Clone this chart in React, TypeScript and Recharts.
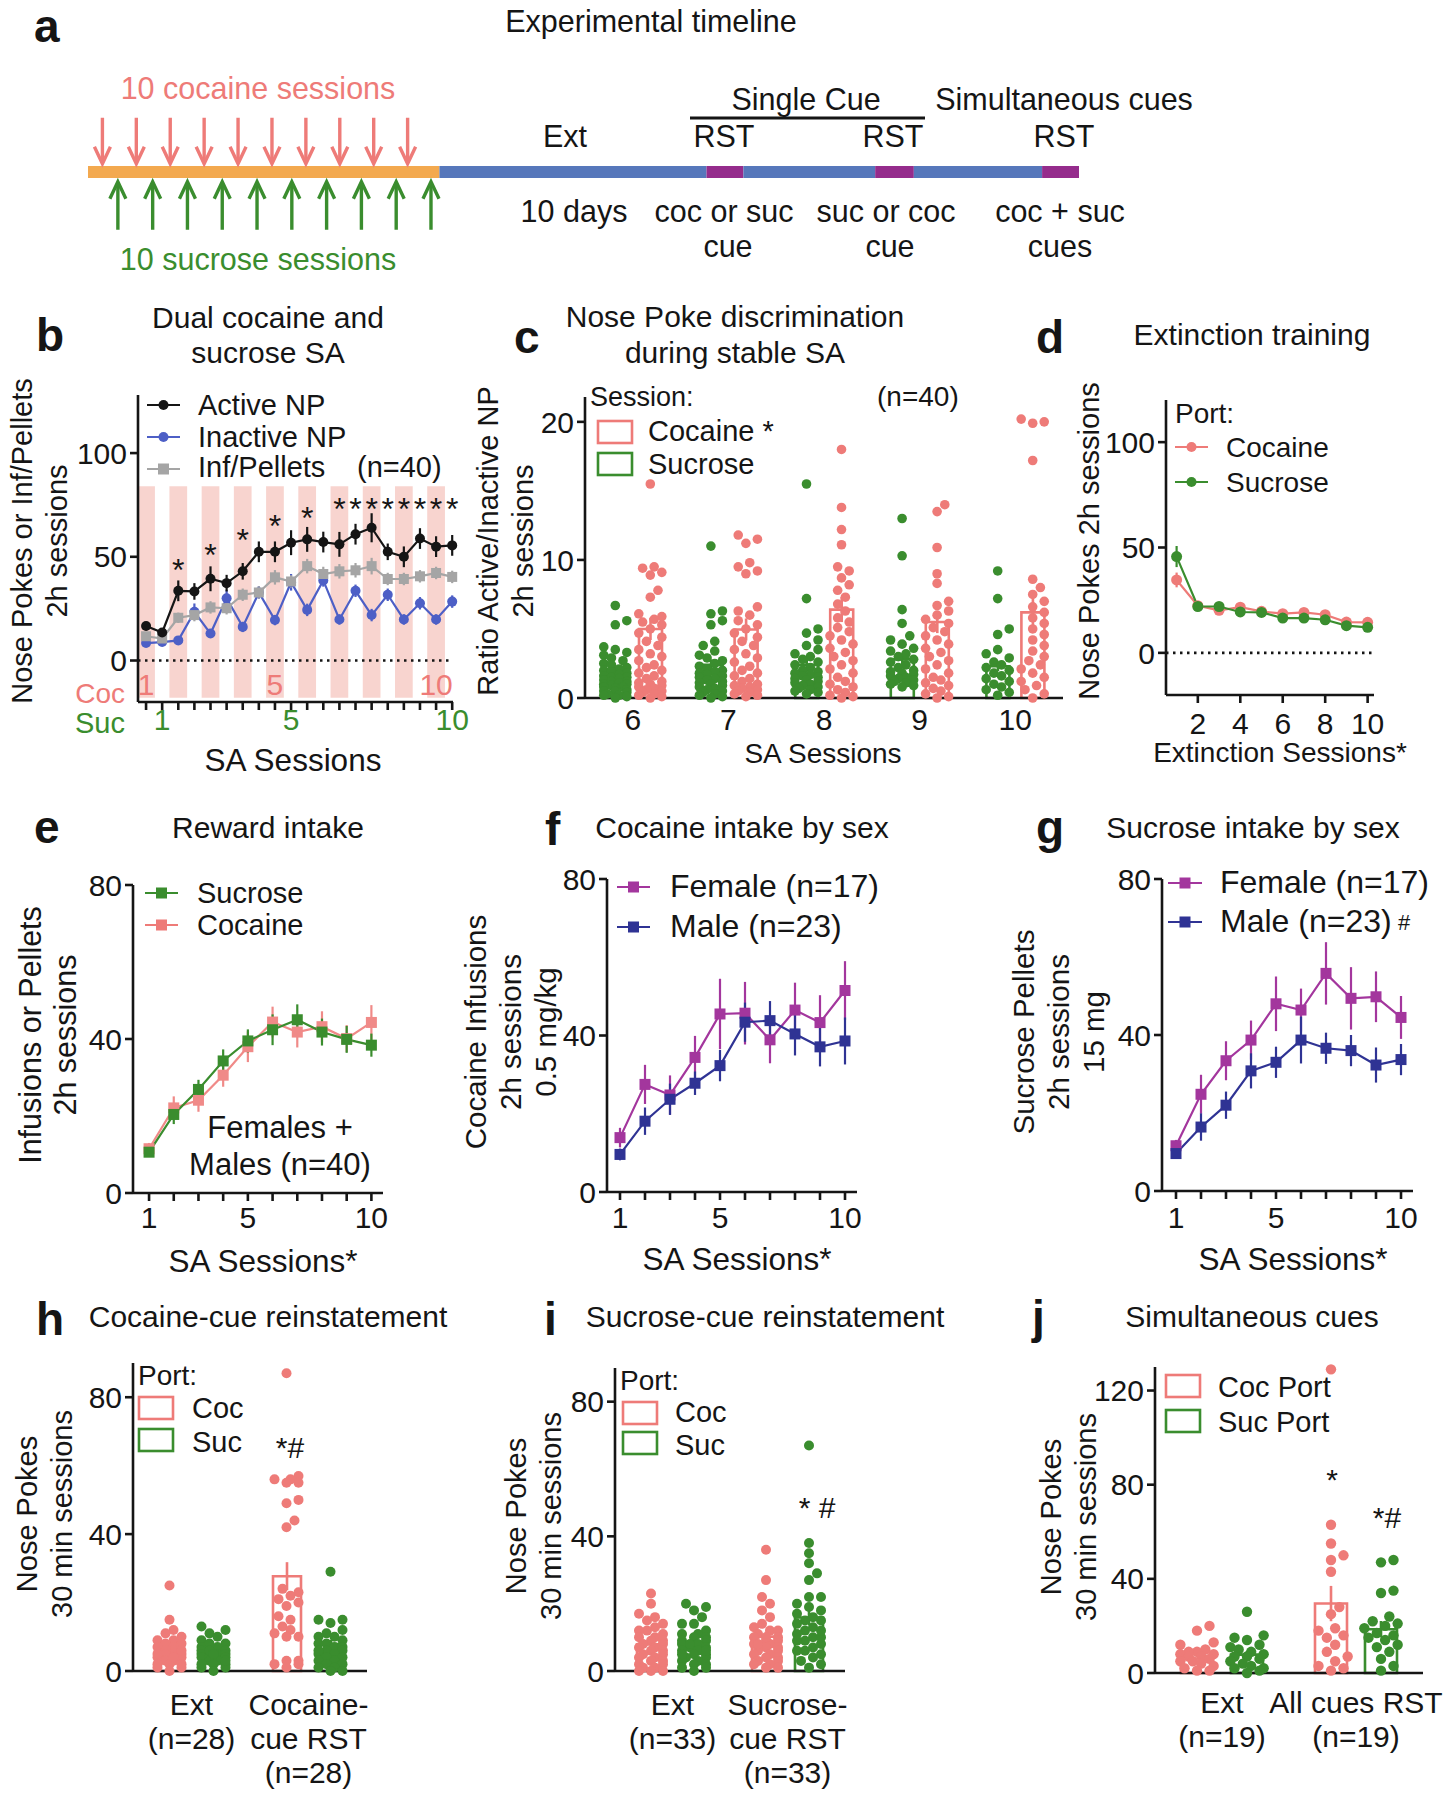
import React from "react";
import {
  ComposedChart,
  Line,
  Bar,
  Scatter,
  XAxis,
  YAxis,
  ErrorBar,
  ReferenceArea,
  ReferenceLine,
} from "recharts";

const FONT = "'Liberation Sans', Arial, Helvetica, sans-serif";
const INK = "#151515";
const COC = "#EE7B78";
const SUC = "#3A8D2E";
const BLUE = "#4D5FC6";
const GREY = "#A5A5A5";
const FEMALE = "#A3369D";
const MALE = "#2F3394";
const BAND = "#F8D4CF";
const STAGE_COLORS = ["#F3A94F", "#5677BB", "#952C8C", "#5677BB", "#952C8C", "#5677BB", "#952C8C"];
const FS = 30;

// ---- a: timeline, segment lengths in SA-session units ----
const timelineStages = ["SA", "Ext", "RST", "Ext", "RST", "Ext", "RST"];
const timelineLengths = [10, 7.6, 1.05, 3.75, 1.1, 3.65, 1.05];
const saSessions = [1, 2, 3, 4, 5, 6, 7, 8, 9, 10];

// ---- b: alternating cocaine / sucrose sessions (coc1, suc1, coc2, ...) ----
const bTickLabels = ["1", "1", "", "", "", "", "", "", "5", "5", "", "", "", "", "", "", "", "", "10", "10"];
const bActive = [16.6, 13.5, 33.6, 33.3, 39.4, 37.3, 43, 52.4, 52.4, 56.8, 58.4, 57.1, 56, 60.9, 64, 52.4, 50, 58.8, 54.9, 55.5];
const bActiveSem = [2, 2, 5, 4, 6, 4, 4, 5, 5, 6, 6, 5, 6, 5, 7, 4, 5, 5, 5, 5];
const bInactive = [8.4, 8.9, 9.7, 23.5, 13, 30, 16.2, 32.8, 19.5, 37.7, 24.4, 38.6, 19.8, 33.6, 21.9, 31.7, 19.8, 27.6, 19.8, 28.4];
const bInactiveSem = [1.5, 1.5, 2, 4, 2, 4, 2.5, 3, 2.5, 4, 3, 3, 2.5, 3, 3, 3, 2.5, 3, 2.5, 3];
const bRewards = [11.7, 10.6, 20.6, 21.9, 25.6, 25.2, 31.7, 32.8, 40.1, 38.1, 45.5, 41.7, 43, 43.5, 45.5, 39.3, 39.3, 40.6, 42.2, 40.3];
const bRewardsSem = [1.5, 1.5, 2.5, 3, 3, 3, 3, 3, 3.5, 3, 3.5, 3.5, 3.5, 3.5, 4, 3, 3, 3, 3, 3];
const bSignificance = [null, null, 47, null, 54.4, null, 61.7, null, 68.2, null, 72.2, null, 76.3, 76.3, 76.3, 76.3, 76.3, 76.3, 76.3, 76.3];

// ---- c: ratio active/inactive per session ----
const cSessions = ["6", "7", "8", "9", "10"];
const cSucroseMean = [1.9, 2.4, 2.4, 2.8, 2.3];
const cSucroseSem = [0.3, 0.4, 0.4, 0.4, 0.35];
const cCocaineMean = [5.0, 4.96, 6.4, 5.5, 6.2];
const cCocaineSem = [0.8, 0.8, 0.9, 0.8, 1.0];
const cSucroseDots = [
  [6.7, 5.6, 5.3, 3.7, 3.5, 3.3, 3.1, 2.9, 2.7, 2.5, 2.4, 2.2, 2.1, 2.0, 1.9, 1.8, 1.7, 1.6, 1.5, 1.5, 1.4, 1.3, 1.2, 1.2, 1.1, 1.0, 1.0, 0.9, 0.8, 0.8, 0.7, 0.6, 0.5, 0.5, 0.4, 0.3, 0.2, 0.2, 0.1, 0.0],
  [11.0, 6.3, 6.1, 5.6, 5.3, 4.1, 3.8, 3.4, 3.1, 2.9, 2.7, 2.5, 2.3, 2.1, 2.0, 1.9, 1.8, 1.7, 1.6, 1.5, 1.4, 1.3, 1.2, 1.1, 1.0, 0.9, 0.8, 0.7, 0.6, 0.5, 0.4, 0.3, 0.2, 0.1, 0.0],
  [15.5, 7.2, 5.0, 4.7, 4.2, 3.8, 3.5, 3.2, 3.0, 2.8, 2.6, 2.4, 2.2, 2.0, 1.9, 1.8, 1.7, 1.6, 1.5, 1.4, 1.3, 1.2, 1.1, 1.0, 0.9, 0.8, 0.7, 0.6, 0.5, 0.4, 0.3],
  [13.0, 10.3, 6.4, 5.4, 4.5, 4.2, 3.9, 3.6, 3.4, 3.2, 3.0, 2.8, 2.6, 2.4, 2.2, 2.0, 1.9, 1.8, 1.7, 1.6, 1.5, 1.4, 1.3, 1.2, 1.1, 1.0, 0.9, 0.8],
  [9.2, 7.2, 5.0, 4.6, 3.5, 3.2, 2.9, 2.6, 2.4, 2.2, 2.0, 1.8, 1.6, 1.4, 1.2, 1.0, 0.8, 0.6, 0.4, 0.2],
];
const cCocaineDots = [
  [15.5, 9.5, 9.4, 9.1, 8.9, 7.8, 7.3, 6.1, 5.9, 5.7, 5.5, 5.3, 5.0, 4.7, 4.4, 4.1, 3.8, 3.5, 3.2, 3.0, 2.7, 2.4, 2.2, 2.0, 1.8, 1.6, 1.4, 1.2, 1.1, 1.0, 0.9, 0.8, 0.7, 0.6, 0.5, 0.4, 0.3, 0.2, 0.1, 0.0],
  [11.8, 11.5, 11.2, 9.8, 9.5, 9.2, 9.0, 6.6, 6.3, 6.0, 5.6, 5.3, 5.0, 4.7, 4.4, 4.1, 3.8, 3.5, 3.2, 2.9, 2.6, 2.3, 2.0, 1.8, 1.6, 1.4, 1.2, 1.0, 0.9, 0.8, 0.7, 0.6, 0.5, 0.4, 0.3, 0.2, 0.1],
  [18.0, 13.8, 12.2, 11.1, 9.5, 9.2, 8.7, 8.2, 7.8, 7.3, 6.8, 6.3, 5.8, 5.5, 5.1, 4.8, 4.5, 4.2, 3.9, 3.6, 3.3, 3.0, 2.7, 2.4, 2.1, 1.8, 1.5, 1.2, 1.0, 0.8, 0.6, 0.4, 0.2, 0.1, 0.0],
  [14.0, 13.5, 10.9, 9.0, 8.3, 7.0, 6.7, 6.3, 6.0, 5.7, 5.4, 5.1, 4.8, 4.5, 4.2, 3.9, 3.6, 3.3, 3.0, 2.7, 2.4, 2.1, 1.8, 1.5, 1.3, 1.1, 0.9, 0.7, 0.5, 0.3, 0.1, 0.0],
  [20.2, 20.0, 19.9, 17.2, 8.6, 8.0, 7.5, 7.0, 6.6, 6.2, 5.8, 5.4, 5.0, 4.6, 4.2, 3.8, 3.4, 3.0, 2.7, 2.4, 2.1, 1.8, 1.5, 1.2, 0.9, 0.6, 0.3, 0.0],
];

// ---- d: extinction ----
const dSessions = [1, 2, 3, 4, 5, 6, 7, 8, 9, 10];
const dCocaine = [34.6, 22.4, 20.2, 21.7, 19.7, 18.6, 19.2, 18.1, 14.6, 14.5];
const dCocaineSem = [3.5, 1.5, 1.5, 1.5, 1.2, 1.2, 1.2, 1.5, 1.2, 1.2];
const dSucrose = [45.7, 22, 22, 19.4, 19.2, 16.5, 16.5, 15.7, 12.9, 12.1];
const dSucroseSem = [5, 1.5, 1.5, 1.5, 1.2, 1.2, 1.2, 1.2, 1, 1];

// ---- e: reward intake ----
const saDays = [1, 2, 3, 4, 5, 6, 7, 8, 9, 10];
const eSucrose = [10.6, 20.4, 26.9, 34.3, 39.5, 42.4, 45, 41.8, 39.9, 38.4];
const eSucroseSem = [1, 2.5, 2.5, 3, 3, 4, 4, 3.5, 3.5, 3];
const eCocaine = [11.5, 22.1, 24.1, 30.6, 38, 44.4, 41.8, 43.2, 40.1, 44.3];
const eCocaineSem = [1.5, 3, 3, 3, 4, 4, 4, 4, 3.5, 4.5];

// ---- f: cocaine intake by sex ----
const fFemale = [13.9, 27.5, 24.8, 34.4, 45.5, 45.7, 38.9, 46.5, 43.3, 51.5];
const fFemaleSem = [2.5, 5, 5, 5.5, 9, 8, 6, 7, 7, 7.5];
const fMale = [9.6, 18.1, 23.7, 27.8, 32.3, 43.4, 43.8, 40.4, 37.1, 38.6];
const fMaleSem = [1.5, 3.5, 4, 3, 4, 5, 5, 5.5, 5, 6];

// ---- g: sucrose intake by sex ----
const gFemale = [11.6, 24.8, 33.4, 38.7, 48, 46.4, 55.8, 49.4, 49.8, 44.5];
const gFemaleSem = [1.5, 5, 5, 5, 7, 5.5, 8, 8, 6.5, 5.5];
const gMale = [9.6, 16.4, 22, 30.8, 33, 38.7, 36.6, 36, 32.3, 33.7];
const gMaleSem = [1, 3.5, 3.5, 4.5, 4, 6, 4, 4, 4.5, 4];
const intakeTickLabels = [1, 5, 10];

// ---- h: cocaine-cue reinstatement ----
const hGroups = ["Ext\n(n=28)", "Cocaine-\ncue RST\n(n=28)"];
const hCocMean = [7.9, 27.7];
const hCocSem = [1, 4.1];
const hSucMean = [5.8, 7.9];
const hSucSem = [0.8, 1.2];
const hCocDots = [
  [25, 15, 12, 11, 10, 9, 9, 8, 8, 7, 7, 6, 6, 5, 5, 4, 4, 3, 3, 2, 2, 1, 1, 0, 6, 5, 4, 2],
  [87, 57, 56, 56, 55, 55, 50, 49, 44, 42, 24, 23, 22, 21, 20, 19, 16, 15, 13, 12, 11, 10, 10, 3, 3, 2, 2, 1],
];
const hSucDots = [
  [13, 12, 11, 10, 9, 8, 7, 7, 6, 6, 5, 5, 5, 4, 4, 4, 3, 3, 2, 2, 1, 1, 0, 8, 6, 5, 3, 2],
  [29, 15, 15, 14, 12, 11, 10, 10, 9, 8, 8, 7, 7, 6, 6, 5, 5, 4, 4, 3, 3, 2, 2, 1, 1, 0, 0, 6],
];

// ---- i: sucrose-cue reinstatement ----
const iGroups = ["Ext\n(n=33)", "Sucrose-\ncue RST\n(n=33)"];
const iCocMean = [7.9, 10.2];
const iCocSem = [1, 1.5];
const iSucMean = [7.4, 15.9];
const iSucSem = [1, 2.3];
const iCocDots = [
  [23, 20, 17, 16, 15, 14, 13, 12, 12, 11, 10, 10, 9, 9, 8, 8, 7, 7, 6, 6, 5, 5, 4, 4, 3, 3, 2, 2, 1, 1, 0, 0, 0],
  [36, 27, 22, 20, 18, 16, 14, 13, 12, 12, 11, 10, 10, 9, 9, 8, 8, 7, 7, 6, 6, 5, 5, 4, 4, 3, 3, 2, 2, 1, 1, 8, 10],
];
const iSucDots = [
  [20, 19, 18, 16, 14, 14, 12, 11, 11, 10, 10, 9, 9, 8, 8, 7, 7, 6, 6, 5, 5, 4, 4, 3, 3, 2, 2, 1, 1, 0, 5, 6, 8],
  [67, 38, 35, 32, 29, 27, 22, 22, 20, 19, 18, 17, 16, 15, 15, 14, 13, 12, 11, 10, 9, 9, 8, 7, 6, 6, 5, 4, 3, 2, 1, 10, 12],
];

// ---- j: simultaneous cues ----
const jGroups = ["Ext\n(n=19)", "All cues RST\n(n=19)"];
const jCocMean = [8.9, 29.5];
const jCocSem = [1.3, 7.5];
const jSucMean = [7.8, 18.6];
const jSucSem = [1.5, 3.5];
const jCocDots = [
  [20, 18, 13, 12, 10, 9, 9, 8, 8, 7, 7, 6, 5, 5, 4, 3, 2, 1, 1],
  [129, 63, 55, 50, 48, 43, 28, 25, 19, 18, 16, 15, 12, 9, 7, 5, 3, 2, 1],
];
const jSucDots = [
  [26, 16, 15, 14, 12, 11, 10, 9, 8, 7, 7, 6, 5, 4, 3, 2, 2, 1, 0],
  [48, 47, 35, 34, 24, 22, 21, 20, 19, 17, 16, 15, 14, 12, 11, 9, 6, 3, 1],
];

// ---------- layout helpers ----------
type Rect = { x0: number; y0: number; x1: number; y1: number };
const YW = 80;
const MT = 24;
const MR = 30;
const axisStyle = { stroke: INK, strokeWidth: 2.6 };

function frame(r: Rect, xh: number) {
  return {
    style: { position: "absolute" as const, left: r.x0 - YW, top: r.y0 - MT },
    width: r.x1 - r.x0 + YW + MR,
    height: r.y1 - r.y0 + MT + xh,
    margin: { top: MT, right: MR, left: 0, bottom: 0 },
  };
}

function yAxis(domain: [number, number], ticks: number[]) {
  return (
    <YAxis
      type="number"
      domain={domain}
      ticks={ticks}
      interval={0}
      width={YW}
      axisLine={axisStyle}
      tickLine={axisStyle}
      tickSize={8}
      tickMargin={3}
      tick={{ fill: INK, fontSize: 30 }}
    />
  );
}

function NumTick(props: any) {
  const { x, y, payload, show, baseDy, color } = props;
  if (show && !show.includes(payload.value)) return null;
  return (
    <text x={x} y={y + baseDy} textAnchor="middle" fontSize={30} fill={color ?? INK}>
      {payload.value}
    </text>
  );
}

function SessionTick(props: any) {
  const { x, y, payload } = props;
  const i = payload.value as number;
  const label = bTickLabels[i];
  if (!label) return null;
  const isCoc = i % 2 === 0;
  return (
    <text x={x} y={isCoc ? y - 15 : y + 20} textAnchor="middle" fontSize={30} fill={isCoc ? COC : SUC}>
      {label}
    </text>
  );
}

function GroupTick(props: any) {
  const { x, y, payload, firstDy } = props;
  const lines = String(payload.value).split("\n");
  return (
    <text textAnchor="middle" fontSize={30} fill={INK}>
      {lines.map((l, k) => (
        <tspan key={k} x={x} y={y + firstDy + k * 34}>
          {l}
        </tspan>
      ))}
    </text>
  );
}

const squareDot = (color: string, s: number) => (p: any) =>
  <rect key={`sq${p.index}`} x={p.cx - s / 2} y={p.cy - s / 2} width={s} height={s} fill={color} />;

// simple beeswarm: pixel x offsets so dots do not pile up
function swarm(vals: number[], py: number, r: number, lim: number): number[] {
  const order = vals.map((_, i) => i).sort((a, b) => vals[a] - vals[b]);
  const placed: [number, number][] = [];
  const out: number[] = new Array(vals.length).fill(0);
  const step = r * 0.8;
  const cands: number[] = [0];
  for (let k = 1; k * step <= lim; k++) cands.push(k * step, -k * step);
  for (const i of order) {
    const y = vals[i] * py;
    let best = 0;
    let bestCost = Infinity;
    for (const x of cands) {
      let cost = 0;
      for (const [px, pyy] of placed) {
        const d = Math.hypot(px - x, pyy - y);
        if (d < 2 * r) cost += 2 * r - d;
      }
      if (cost < bestCost - 1e-6) {
        bestCost = cost;
        best = x;
      }
      if (cost === 0) break;
    }
    placed.push([best, y]);
    out[i] = best;
  }
  return out;
}

type LineSeries = { values: number[]; sems: number[]; color: string; square?: boolean; size: number };

function LinePanel(props: {
  rect: Rect;
  xs: number[];
  xDomain: [number, number];
  xTicks: number[];
  tick: any;
  xh: number;
  yDomain: [number, number];
  yTicks: number[];
  series: LineSeries[];
  before?: any;
  after?: any;
}) {
  const { rect, xs, xDomain, xTicks, tick, xh, yDomain, yTicks, series, before, after } = props;
  const rows = xs.map((x, k) => {
    const row: any = { x };
    series.forEach((s, j) => {
      row[`v${j}`] = s.values[k];
      row[`e${j}`] = s.sems[k];
    });
    return row;
  });
  const f = frame(rect, xh);
  return (
    <div style={f.style}>
      <ComposedChart width={f.width} height={f.height} margin={f.margin} data={rows}>
        {before}
        <XAxis
          dataKey="x"
          type="number"
          domain={xDomain}
          ticks={xTicks}
          interval={0}
          axisLine={axisStyle}
          tickLine={axisStyle}
          tickSize={8}
          tickMargin={0}
          height={xh}
          tick={tick}
        />
        {yAxis(yDomain, yTicks)}
        {series.map((s, j) => (
          <Line
            key={j}
            dataKey={`v${j}`}
            stroke={s.color}
            strokeWidth={2.2}
            isAnimationActive={false}
            activeDot={false}
            dot={s.square ? squareDot(s.color, s.size) : { r: s.size / 2, fill: s.color, stroke: s.color, strokeWidth: 0 }}
          >
            <ErrorBar dataKey={`e${j}`} width={0} stroke={s.color} strokeWidth={2.2} direction="y" />
          </Line>
        ))}
        {after}
      </ComposedChart>
    </div>
  );
}

type DotSeries = { means: number[]; sems: number[]; dots: number[][]; color: string };

function DotBarPanel(props: {
  rect: Rect;
  cats: string[];
  yMax: number;
  yTicks: number[];
  series: DotSeries[];
  barSize: number;
  barGap: number;
  r: number;
  tick: any;
  xh: number;
}) {
  const { rect, cats, yMax, yTicks, series, barSize, barGap, r, tick, xh } = props;
  const n = cats.length;
  const bw = (rect.x1 - rect.x0) / n;
  const py = (rect.y1 - rect.y0) / yMax;
  const m = series.length;
  const rows = cats.map((c, k) => {
    const row: any = { cat: c };
    series.forEach((s, j) => {
      row[`m${j}`] = s.means[k];
      row[`e${j}`] = s.sems[k];
    });
    return row;
  });
  const dotSets = series.map((s, j) => {
    const side = (j - (m - 1) / 2) * (barSize + barGap);
    return s.dots.flatMap((vals, k) => {
      const offs = swarm(vals, py, r, barSize / 2 + 1);
      return vals.map((v, q) => ({ x: k + (side + offs[q]) / bw, y: v }));
    });
  });
  const f = frame(rect, xh);
  return (
    <div style={f.style}>
      <ComposedChart width={f.width} height={f.height} margin={f.margin} data={rows} barGap={barGap}>
        <XAxis
          xAxisId="c"
          dataKey="cat"
          type="category"
          axisLine={axisStyle}
          tickLine={false}
          tickSize={0}
          tickMargin={0}
          interval={0}
          height={xh}
          tick={tick}
        />
        <XAxis xAxisId="n" dataKey="x" type="number" domain={[-0.5, n - 0.5]} hide />
        {yAxis([0, yMax], yTicks)}
        {series.map((s, j) => (
          <Bar
            key={`b${j}`}
            xAxisId="c"
            dataKey={`m${j}`}
            barSize={barSize}
            fill="none"
            stroke={s.color}
            strokeWidth={2.6}
            isAnimationActive={false}
          >
            <ErrorBar dataKey={`e${j}`} width={0} stroke={s.color} strokeWidth={2.6} direction="y" />
          </Bar>
        ))}
        {dotSets.map((d, j) => (
          <Scatter
            key={`s${j}`}
            xAxisId="n"
            data={d}
            dataKey="y"
            fill={series[j].color}
            isAnimationActive={false}
            shape={(p: any) => <circle cx={p.cx} cy={p.cy} r={r} fill={series[j].color} />}
          />
        ))}
      </ComposedChart>
    </div>
  );
}

// ---------- panel a ----------
function Timeline() {
  const starts = timelineLengths.map((_, k) => timelineLengths.slice(0, k).reduce((a, b) => a + b, 0));
  const total = timelineLengths.reduce((a, b) => a + b, 0);
  const cocArrows = saSessions.map((s) => ({ x: 0.41 + (s - 1) * 0.965, y: 57.5 }));
  const sucArrows = saSessions.map((s) => ({ x: 0.85 + (s - 1) * 0.99, y: 45.5 }));
  const down = (p: any) => (
    <g>
      <line x1={p.cx} x2={p.cx} y1={p.cy - 46} y2={p.cy - 1} stroke={COC} strokeWidth={3.4} />
      <polyline points={`${p.cx - 8},${p.cy - 17} ${p.cx},${p.cy} ${p.cx + 8},${p.cy - 17}`} fill="none" stroke={COC} strokeWidth={3.4} />
    </g>
  );
  const up = (p: any) => (
    <g>
      <line x1={p.cx} x2={p.cx} y1={p.cy + 1} y2={p.cy + 48} stroke={SUC} strokeWidth={3.4} />
      <polyline points={`${p.cx - 8},${p.cy + 17} ${p.cx},${p.cy} ${p.cx + 8},${p.cy + 17}`} fill="none" stroke={SUC} strokeWidth={3.4} />
    </g>
  );
  return (
    <div style={{ position: "absolute", left: 88, top: 100 }}>
      <ComposedChart width={991} height={150} margin={{ top: 0, right: 0, left: 0, bottom: 0 }}>
        <XAxis type="number" dataKey="x" domain={[0, total]} hide allowDataOverflow />
        <YAxis type="number" domain={[0, 100]} hide allowDataOverflow />
        {starts.map((s, k) => (
          <ReferenceArea
            key={`${timelineStages[k]}${k}`}
            x1={s}
            x2={s + timelineLengths[k]}
            y1={48}
            y2={56}
            fill={STAGE_COLORS[k]}
            fillOpacity={1}
            stroke="none"
          />
        ))}
        <Scatter data={cocArrows} dataKey="y" isAnimationActive={false} shape={down} />
        <Scatter data={sucArrows} dataKey="y" isAnimationActive={false} shape={up} />
      </ComposedChart>
    </div>
  );
}

// ---------- overlay text ----------
function T(props: { x: number; y: number; children: any; size?: number; anchor?: string; fill?: string; weight?: number }) {
  const { x, y, children, size = FS, anchor = "middle", fill = INK, weight = 400 } = props;
  return (
    <text x={x} y={y} fontSize={size} textAnchor={anchor as any} fill={fill} fontWeight={weight}>
      {children}
    </text>
  );
}

function VLabel({ cx, cy, lines, size = 30 }: { cx: number; cy: number; lines: string[]; size?: number }) {
  const n = lines.length;
  return (
    <g transform={`translate(${cx},${cy}) rotate(-90)`}>
      {lines.map((l, k) => (
        <text key={k} x={0} y={(k - (n - 1) / 2) * 35 + size * 0.36} textAnchor="middle" fontSize={size} fill={INK}>
          {l}
        </text>
      ))}
    </g>
  );
}

function LegLine({ x1, x2, y, color, square }: { x1: number; x2: number; y: number; color: string; square?: boolean }) {
  const cx = (x1 + x2) / 2;
  return (
    <g>
      <line x1={x1} x2={x2} y1={y} y2={y} stroke={color} strokeWidth={2.2} />
      {square ? (
        <rect x={cx - 5.5} y={y - 5.5} width={11} height={11} fill={color} />
      ) : (
        <circle cx={cx} cy={y} r={5} fill={color} />
      )}
    </g>
  );
}

function LegBox({ x, y, color }: { x: number; y: number; color: string }) {
  return <rect x={x} y={y} width={34} height={22} fill="none" stroke={color} strokeWidth={2.6} />;
}

function Overlay() {
  const L = 46;
  const A = 30.5;
  return (
    <svg
      width={1454}
      height={1800}
      style={{ position: "absolute", left: 0, top: 0, pointerEvents: "none" }}
      fontFamily={FONT}
    >
      {/* a */}
      <T x={34} y={42} size={46} anchor="start" weight={700}>a</T>
      <T x={651} y={32} size={A}>Experimental timeline</T>
      <T x={258} y={99} size={A} fill={COC}>10 cocaine sessions</T>
      <T x={258} y={270} size={A} fill={SUC}>10 sucrose sessions</T>
      <T x={806} y={110} size={A}>Single Cue</T>
      <line x1={690} x2={925} y1={118} y2={118} stroke={INK} strokeWidth={3} />
      <T x={1064} y={110} size={A}>Simultaneous cues</T>
      <T x={565} y={147} size={A}>Ext</T>
      <T x={724} y={147} size={A}>RST</T>
      <T x={893} y={147} size={A}>RST</T>
      <T x={1064} y={147} size={A}>RST</T>
      <T x={574} y={222} size={A}>10 days</T>
      <T x={724} y={222} size={A}>coc or suc</T>
      <T x={728} y={257} size={A}>cue</T>
      <T x={886} y={222} size={A}>suc or coc</T>
      <T x={890} y={257} size={A}>cue</T>
      <T x={1060} y={222} size={A}>coc + suc</T>
      <T x={1060} y={257} size={A}>cues</T>

      {/* b */}
      <T x={36} y={351} size={L} anchor="start" weight={700}>b</T>
      <T x={268} y={328}>Dual cocaine and</T>
      <T x={268} y={363}>sucrose SA</T>
      <LegLine x1={147} x2={180} y={405} color={INK} />
      <T x={198} y={415} anchor="start" size={29}>Active NP</T>
      <LegLine x1={147} x2={180} y={437} color={BLUE} />
      <T x={198} y={447} anchor="start" size={29}>Inactive NP</T>
      <LegLine x1={147} x2={180} y={469} color={GREY} square />
      <T x={198} y={477} anchor="start" size={29}>Inf/Pellets</T>
      <T x={357} y={477} anchor="start" size={29}>(n=40)</T>
      <T x={125} y={703} anchor="end" fill={COC} size={28}>Coc</T>
      <T x={125} y={733} anchor="end" fill={SUC} size={29}>Suc</T>
      <T x={293} y={771} size={31.5}>SA Sessions</T>
      <VLabel cx={39.5} cy={541} lines={["Nose Pokes or Inf/Pellets", "2h sessions"]} size={29} />

      {/* c */}
      <T x={514} y={353} size={L} anchor="start" weight={700}>c</T>
      <T x={735} y={327}>Nose Poke discrimination</T>
      <T x={735} y={363}>during stable SA</T>
      <T x={590} y={406} anchor="start" size={27}>Session:</T>
      <LegBox x={598} y={421} color={COC} />
      <T x={648} y={441} anchor="start" size={29}>Cocaine *</T>
      <LegBox x={598} y={453} color={SUC} />
      <T x={648} y={474} anchor="start" size={29}>Sucrose</T>
      <T x={877} y={406} anchor="start" size={28}>(n=40)</T>
      <T x={823} y={763} size={28}>SA Sessions</T>
      <VLabel cx={505} cy={541} lines={["Ratio Active/Inactive NP", "2h sessions"]} size={29} />

      {/* d */}
      <T x={1036} y={353} size={L} anchor="start" weight={700}>d</T>
      <T x={1252} y={345}>Extinction training</T>
      <T x={1175} y={423} anchor="start" size={28}>Port:</T>
      <LegLine x1={1175} x2={1208} y={447} color={COC} />
      <T x={1226} y={457} anchor="start" size={28}>Cocaine</T>
      <LegLine x1={1175} x2={1208} y={482} color={SUC} />
      <T x={1226} y={492} anchor="start" size={28}>Sucrose</T>
      <T x={1280} y={762} size={28}>Extinction Sessions*</T>
      <VLabel cx={1089} cy={541} lines={["Nose Pokes 2h sessions"]} size={29} />

      {/* e */}
      <T x={34} y={843} size={L} anchor="start" weight={700}>e</T>
      <T x={268} y={838}>Reward intake</T>
      <LegLine x1={145} x2={178} y={893} color={SUC} square />
      <T x={197} y={903} anchor="start" size={29}>Sucrose</T>
      <LegLine x1={145} x2={178} y={925} color={COC} square />
      <T x={197} y={935} anchor="start" size={29}>Cocaine</T>
      <T x={280} y={1138} size={31}>Females +</T>
      <T x={280} y={1175} size={31}>Males (n=40)</T>
      <T x={263} y={1272} size={31.5}>SA Sessions*</T>
      <VLabel cx={48} cy={1035} lines={["Infusions or Pellets", "2h sessions"]} size={30.5} />

      {/* f */}
      <T x={545} y={845} size={L} anchor="start" weight={700}>f</T>
      <T x={742} y={838}>Cocaine intake by sex</T>
      <LegLine x1={617} x2={650} y={887} color={FEMALE} square />
      <T x={670} y={897} anchor="start" size={32}>Female (n=17)</T>
      <LegLine x1={617} x2={650} y={927} color={MALE} square />
      <T x={670} y={937} anchor="start" size={32}>Male (n=23)</T>
      <T x={737} y={1270} size={31.5}>SA Sessions*</T>
      <VLabel cx={510} cy={1032} lines={["Cocaine Infusions", "2h sessions", "0.5 mg/kg"]} size={29.5} />

      {/* g */}
      <T x={1036} y={843} size={L} anchor="start" weight={700}>g</T>
      <T x={1253} y={838}>Sucrose intake by sex</T>
      <LegLine x1={1168} x2={1202} y={883} color={FEMALE} square />
      <T x={1220} y={893} anchor="start" size={32}>Female (n=17)</T>
      <LegLine x1={1168} x2={1202} y={922} color={MALE} square />
      <T x={1220} y={932} anchor="start" size={32}>Male (n=23)</T>
      <T x={1398} y={930} anchor="start" size={22}>#</T>
      <T x={1293} y={1270} size={31.5}>SA Sessions*</T>
      <VLabel cx={1058} cy={1032} lines={["Sucrose Pellets", "2h sessions", "15 mg"]} size={29.5} />

      {/* h */}
      <T x={36} y={1335} size={L} anchor="start" weight={700}>h</T>
      <T x={268} y={1327}>Cocaine-cue reinstatement</T>
      <T x={138} y={1385} anchor="start" size={28}>Port:</T>
      <LegBox x={139} y={1397} color={COC} />
      <T x={192} y={1418} anchor="start" size={29}>Coc</T>
      <LegBox x={139} y={1429} color={SUC} />
      <T x={192} y={1452} anchor="start" size={29}>Suc</T>
      <T x={290} y={1458}>*#</T>
      <VLabel cx={44} cy={1514} lines={["Nose Pokes", "30 min sessions"]} size={29} />

      {/* i */}
      <T x={544} y={1335} size={L} anchor="start" weight={700}>i</T>
      <T x={765} y={1327}>Sucrose-cue reinstatement</T>
      <T x={620} y={1390} anchor="start" size={28}>Port:</T>
      <LegBox x={623} y={1402} color={COC} />
      <T x={675} y={1422} anchor="start" size={29}>Coc</T>
      <LegBox x={623} y={1432} color={SUC} />
      <T x={675} y={1455} anchor="start" size={29}>Suc</T>
      <T x={817} y={1518}>* #</T>
      <VLabel cx={533} cy={1516} lines={["Nose Pokes", "30 min sessions"]} size={29} />

      {/* j */}
      <T x={1032} y={1333} size={L} anchor="start" weight={700}>j</T>
      <T x={1252} y={1327}>Simultaneous cues</T>
      <LegBox x={1166} y={1375} color={COC} />
      <T x={1218} y={1397} anchor="start" size={29}>Coc Port</T>
      <LegBox x={1166} y={1410} color={SUC} />
      <T x={1218} y={1432} anchor="start" size={29}>Suc Port</T>
      <T x={1332} y={1490}>*</T>
      <T x={1387} y={1528}>*#</T>
      <VLabel cx={1068} cy={1517} lines={["Nose Pokes", "30 min sessions"]} size={29} />
    </svg>
  );
}

export default function App() {
  const bIdx = bActive.map((_, i) => i);
  const cocIdx = bIdx.filter((i) => i % 2 === 0);
  const bSig = bIdx.filter((i) => bSignificance[i] != null).map((i) => ({ x: i, y: bSignificance[i] }));
  const star = (p: any) => (
    <text x={p.cx} y={p.cy + 18} textAnchor="middle" fontSize={32} fill={INK}>
      *
    </text>
  );
  const intakeTick = (dy: number) => <NumTick show={intakeTickLabels} baseDy={dy} />;

  return (
    <div
      style={{
        position: "absolute",
        left: 0,
        top: 0,
        width: 1454,
        height: 1800,
        background: "#fff",
        fontFamily: FONT,
        overflow: "hidden",
      }}
    >
      <Timeline />

      {/* b */}
      <LinePanel
        rect={{ x0: 138, y0: 395, x1: 453, y1: 702 }}
        xs={bIdx}
        xDomain={[-0.5, 19.05]}
        xTicks={bIdx}
        tick={<SessionTick />}
        xh={60}
        yDomain={[-20, 128]}
        yTicks={[0, 50, 100]}
        series={[
          { values: bInactive, sems: bInactiveSem, color: BLUE, size: 10 },
          { values: bRewards, sems: bRewardsSem, color: GREY, square: true, size: 10 },
          { values: bActive, sems: bActiveSem, color: INK, size: 10 },
        ]}
        before={[
          ...cocIdx.map((i) => (
            <ReferenceArea
              key={`band${i}`}
              x1={Math.max(i - 0.55, -0.5)}
              x2={i + 0.55}
              y1={-18}
              y2={84}
              fill={BAND}
              fillOpacity={1}
              stroke="none"
            />
          )),
          <ReferenceLine key="zero" y={0} stroke={INK} strokeWidth={2.6} strokeDasharray="2.5 4.5" />,
        ]}
        after={<Scatter data={bSig} dataKey="y" isAnimationActive={false} shape={star} />}
      />

      {/* c */}
      <DotBarPanel
        rect={{ x0: 585, y0: 397, x1: 1063, y1: 698 }}
        cats={cSessions}
        yMax={21.8}
        yTicks={[0, 10, 20]}
        series={[
          { means: cSucroseMean, sems: cSucroseSem, dots: cSucroseDots, color: SUC },
          { means: cCocaineMean, sems: cCocaineSem, dots: cCocaineDots, color: COC },
        ]}
        barSize={23}
        barGap={12}
        r={4.8}
        tick={<NumTick baseDy={32} />}
        xh={50}
      />

      {/* d */}
      <LinePanel
        rect={{ x0: 1166, y0: 400, x1: 1374, y1: 695 }}
        xs={dSessions}
        xDomain={[0.5, 10.3]}
        xTicks={[2, 4, 6, 8, 10]}
        tick={<NumTick baseDy={31} />}
        xh={50}
        yDomain={[-20, 120]}
        yTicks={[0, 50, 100]}
        series={[
          { values: dCocaine, sems: dCocaineSem, color: COC, size: 11 },
          { values: dSucrose, sems: dSucroseSem, color: SUC, size: 11 },
        ]}
        before={<ReferenceLine y={0} stroke={INK} strokeWidth={2.6} strokeDasharray="2.5 4.5" />}
      />

      {/* e */}
      <LinePanel
        rect={{ x0: 133, y0: 885, x1: 383, y1: 1193 }}
        xs={saDays}
        xDomain={[0.35, 10.47]}
        xTicks={saDays}
        tick={intakeTick(27)}
        xh={50}
        yDomain={[0, 80]}
        yTicks={[0, 40, 80]}
        series={[
          { values: eCocaine, sems: eCocaineSem, color: "#F08A88", square: true, size: 11 },
          { values: eSucrose, sems: eSucroseSem, color: SUC, square: true, size: 11 },
        ]}
      />

      {/* f */}
      <LinePanel
        rect={{ x0: 607, y0: 879, x1: 857, y1: 1192 }}
        xs={saDays}
        xDomain={[0.48, 10.48]}
        xTicks={saDays}
        tick={intakeTick(28)}
        xh={50}
        yDomain={[0, 80]}
        yTicks={[0, 40, 80]}
        series={[
          { values: fFemale, sems: fFemaleSem, color: FEMALE, square: true, size: 11 },
          { values: fMale, sems: fMaleSem, color: MALE, square: true, size: 11 },
        ]}
      />

      {/* g */}
      <LinePanel
        rect={{ x0: 1162, y0: 879, x1: 1413, y1: 1191 }}
        xs={saDays}
        xDomain={[0.44, 10.48]}
        xTicks={saDays}
        tick={intakeTick(29)}
        xh={50}
        yDomain={[0, 80]}
        yTicks={[0, 40, 80]}
        series={[
          { values: gFemale, sems: gFemaleSem, color: FEMALE, square: true, size: 11 },
          { values: gMale, sems: gMaleSem, color: MALE, square: true, size: 11 },
        ]}
      />

      {/* h */}
      <DotBarPanel
        rect={{ x0: 133, y0: 1363, x1: 367, y1: 1671 }}
        cats={hGroups}
        yMax={90}
        yTicks={[0, 40, 80]}
        series={[
          { means: hCocMean, sems: hCocSem, dots: hCocDots, color: COC },
          { means: hSucMean, sems: hSucSem, dots: hSucDots, color: SUC },
        ]}
        barSize={28}
        barGap={16}
        r={5}
        tick={<GroupTick firstDy={44} />}
        xh={125}
      />

      {/* i */}
      <DotBarPanel
        rect={{ x0: 615, y0: 1368, x1: 845, y1: 1671 }}
        cats={iGroups}
        yMax={90}
        yTicks={[0, 40, 80]}
        series={[
          { means: iCocMean, sems: iCocSem, dots: iCocDots, color: COC },
          { means: iSucMean, sems: iSucSem, dots: iSucDots, color: SUC },
        ]}
        barSize={28}
        barGap={15}
        r={5}
        tick={<GroupTick firstDy={44} />}
        xh={125}
      />

      {/* j */}
      <DotBarPanel
        rect={{ x0: 1155, y0: 1367, x1: 1423, y1: 1673 }}
        cats={jGroups}
        yMax={130}
        yTicks={[0, 40, 80, 120]}
        series={[
          { means: jCocMean, sems: jCocSem, dots: jCocDots, color: COC },
          { means: jSucMean, sems: jSucSem, dots: jSucDots, color: SUC },
        ]}
        barSize={32}
        barGap={18}
        r={5.2}
        tick={<GroupTick firstDy={40} />}
        xh={120}
      />

      <Overlay />
    </div>
  );
}
